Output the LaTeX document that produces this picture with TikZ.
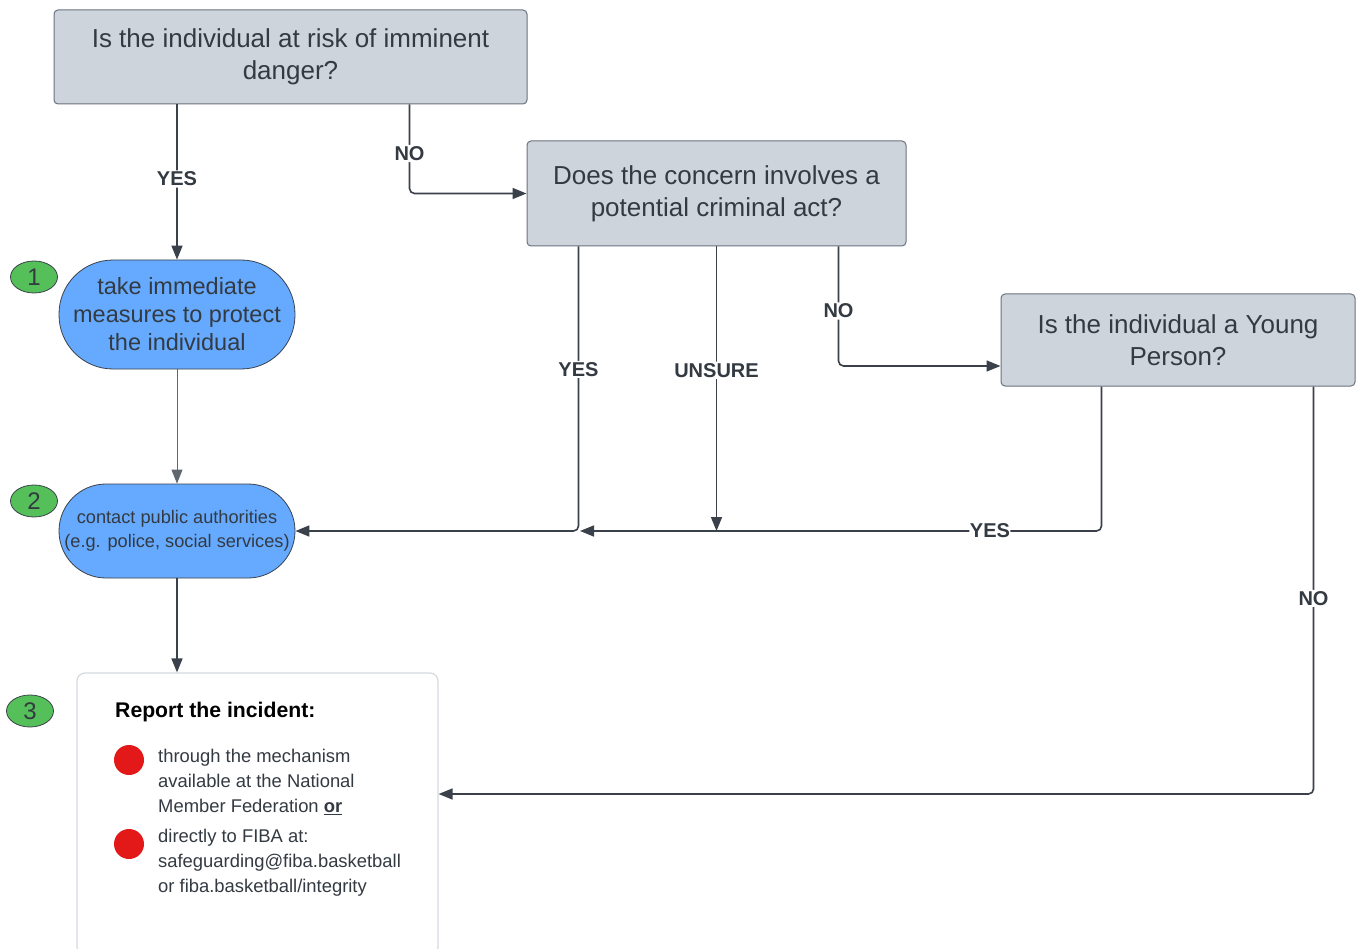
\documentclass[tikz,border=0pt]{standalone}
\usepackage{fontspec}
\setmainfont{Liberation Sans}
\usetikzlibrary{arrows.meta,calc,positioning,shapes.geometric}
\definecolor{qfill}{HTML}{CED4DC}
\definecolor{qline}{HTML}{6B7280}
\definecolor{ln}{HTML}{3A414B}
\definecolor{pill}{HTML}{66AAFF}
\definecolor{txt}{HTML}{333A42}
\definecolor{grn}{HTML}{55C05A}
\definecolor{rdot}{HTML}{E31818}
\definecolor{rbord}{HTML}{D5D9DF}
\tikzset{
  question/.style={draw=qline, fill=qfill, rounded corners=4pt, line width=1pt, text=txt, align=center, font=\fontsize{26}{32}\selectfont, inner sep=0pt},
  pillbox/.style={draw=ln, fill=pill, line width=0.8pt, text=txt, align=center, inner sep=0pt},
  badge/.style={draw=ln, fill=grn, ellipse, line width=0.8pt, minimum width=47pt, minimum height=32pt, inner sep=0pt, text=txt, font=\fontsize{24}{26}\selectfont},
  conn/.style={draw=ln, line width=1.6pt, rounded corners=5pt, -{Triangle[length=14pt,width=11pt]}},
  lab/.style={fill=white, text=txt, font=\fontsize{20}{22}\selectfont\bfseries, inner sep=1.5pt},
  bul/.style={text=txt, align=left, anchor=west, font=\fontsize{18.4}{25}\selectfont, inner sep=0pt},
  dot/.style={circle, fill=rdot, minimum size=30pt, inner sep=0pt}
}
\begin{document}
\begin{tikzpicture}[x=1pt,y=-1pt]
\useasboundingbox (0,0) rectangle (1356,949);
\fill[white] (0,0) rectangle (1356,949);

\node[question, minimum width=473pt, minimum height=94pt] (A) at (290.5,57) {Is the individual at risk of imminent\\danger?};
\node[question, minimum width=379pt, minimum height=105pt] (B) at (716.5,193.5) {Does the concern involves a\\potential criminal act?};
\node[question, minimum width=354pt, minimum height=92pt] (C) at (1178,340) {Is the individual a Young\\Person?};

\node[pillbox, rounded corners=54pt, minimum width=236pt, minimum height=109pt, font=\fontsize{23.5}{28}\selectfont] (P1) at (177,314.5) {take immediate\\measures to protect\\the individual};
\node[pillbox, rounded corners=47pt, minimum width=236pt, minimum height=94pt, font=\fontsize{18.2}{24}\selectfont] (P2) at (177,531) {contact public authorities\\(e.g. police, social services)};

\node[draw=rbord, line width=1.2pt, rounded corners=8pt, minimum width=361pt, minimum height=282pt, inner sep=0pt] (R) at (257.5,814) {};

\node[badge] (b1) at (34,277) {1};
\node[badge] (b2) at (34,501) {2};
\node[badge] (b3) at (30,711) {3};

\node[anchor=west, inner sep=0pt, text=black, font=\fontsize{21.2}{24}\selectfont\bfseries] (rt) at (115,712) {Report the incident:};
\node[dot] (d1) at (129,760) {};
\node[dot] (d2) at (129,844) {};
\node[bul] (t1) at (158,782) {through the mechanism\\available at the National\\Member Federation \underline{\textbf{or}}};
\node[bul] (t2) at (158,863) {directly to FIBA at:\\safeguarding@fiba.basketball\\or fiba.basketball/integrity};

\coordinate (j) at (580,531);

% connectors
\draw[conn] (A.south -| P1.north) -- node[lab, pos=0.48] {YES} (P1.north);
\draw[conn] ([xshift=-118pt]A.south east) |- node[lab, pos=0.275] {NO} (B.west);
\draw[draw=ln!80, line width=0.8pt, -{Triangle[length=14pt,width=11pt]}] (P1.south) -- (P2.north);
\draw[conn] (P2.south) -- (R.north -| P2.south);
\draw[conn] ([xshift=52pt]B.south west) |- node[lab, pos=0.216] {YES} (P2.east);
\draw[conn] (B.south) -- node[lab, pos=0.435] {UNSURE} (B.south |- P2.east);
\draw[conn] ([xshift=-68pt]B.south east) |- node[lab, pos=0.27] {NO} ([yshift=-26pt]C.west);
\draw[conn] ([xshift=101pt]C.south west) |- node[lab, pos=0.607, inner sep=0.5pt] {YES} (j);
\draw[conn] ([xshift=-42pt]C.south east) |- node[lab, pos=0.26] {NO} (R.east |- 0,794);
\end{tikzpicture}
\end{document}
